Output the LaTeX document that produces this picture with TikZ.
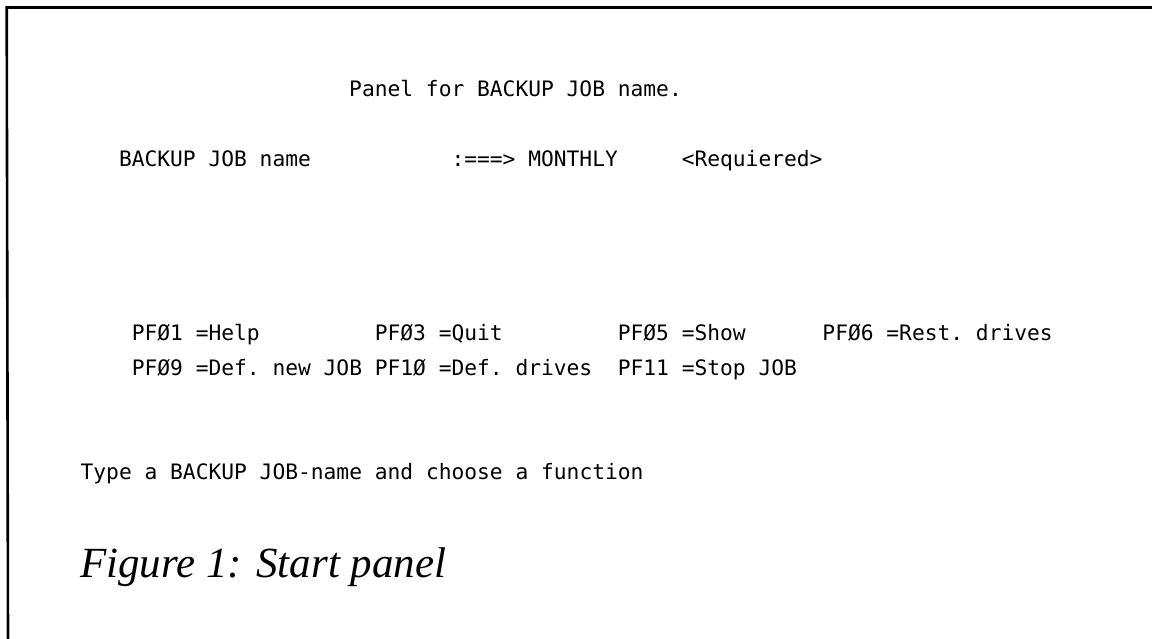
\documentclass[tikz,border=0pt]{standalone}
\usepackage{fontspec}
\setmainfont{Liberation Serif}
\newfontfamily\termfont{DejaVu Sans Mono}
\newfontfamily\capfont{Liberation Serif}
\newcommand{\cw}{12.79}
\begin{document}
\begin{tikzpicture}[x=1pt,y=-1pt,
  term/.style={anchor=base west,inner sep=0pt,outer sep=0pt,font=\termfont\fontsize{21.25}{24}\selectfont\frenchspacing},
  captxt/.style={anchor=base west,inner sep=0pt,outer sep=0pt,font=\capfont\itshape\fontsize{43}{49}\selectfont},
  frameline/.style={line width=2.6pt,line cap=butt}]
\useasboundingbox[fill=white] (0,0) rectangle (1152,639);
\coordinate (ftr) at (1152,7.5);
\coordinate (ftl) at (6.7,7.5);
\coordinate (fbl) at (8,639);
\draw[frameline] (ftr) -- (ftl) -- (fbl);
% column grid origin
\def\xo{119}
\node[term] (title) at ({\xo+18*\cw},97) {Panel for BACKUP JOB name.};
\node[term] (fieldlbl) at ({\xo+0*\cw},167) {BACKUP JOB name};
\node[term] (fieldval) at ({\xo+26*\cw},167) {:===> MONTHLY};
\node[term] (req) at ({\xo+44*\cw},167) {<Requiered>};
\node[term] (pf01) at ({\xo+1*\cw},341) {PFØ1 =Help};
\node[term] (pf03) at ({\xo+20*\cw},341) {PFØ3 =Quit};
\node[term] (pf05) at ({\xo+39*\cw},341) {PFØ5 =Show};
\node[term] (pf06) at ({\xo+55*\cw},341) {PFØ6 =Rest. drives};
\node[term] (pf09) at ({\xo+1*\cw},375) {PFØ9 =Def. new JOB};
\node[term] (pf10) at ({\xo+20*\cw},375) {PF1Ø =Def. drives};
\node[term] (pf11) at ({\xo+39*\cw},375) {PF11 =Stop JOB};
\node[term] (msg) at ({\xo-3*\cw},479) {Type a BACKUP JOB-name and choose a function};
\node[captxt] (caption) at (80,577) {Figure 1: Start panel};
\end{tikzpicture}
\end{document}
